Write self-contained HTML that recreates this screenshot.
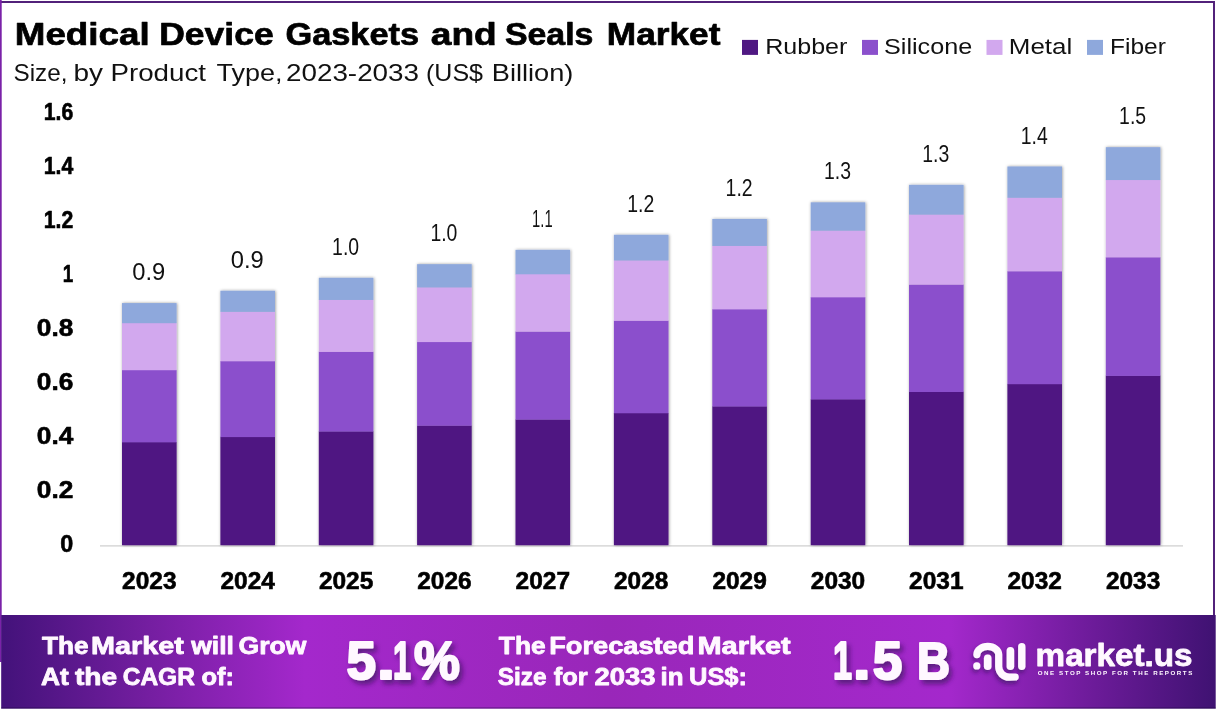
<!DOCTYPE html>
<html lang="en"><head><meta charset="utf-8"><title>Medical Device Gaskets and Seals Market</title>
<style>
html,body{margin:0;padding:0;background:#fff;}
body{width:1217px;height:712px;overflow:hidden;font-family:"Liberation Sans",Arial,sans-serif;}
svg{display:block;}
text{font-family:"Liberation Sans",Arial,sans-serif;}
</style></head><body>
<svg width="1217" height="712" viewBox="0 0 1217 712">
<defs>
<linearGradient id="bg" x1="0" y1="0" x2="1" y2="0">
<stop offset="0" stop-color="#43127a"/>
<stop offset="0.12" stop-color="#741ea0"/>
<stop offset="0.25" stop-color="#a428cc"/>
<stop offset="0.5" stop-color="#9927b9"/>
<stop offset="0.78" stop-color="#a428cc"/>
<stop offset="0.9" stop-color="#6c1b99"/>
<stop offset="1" stop-color="#3f1272"/>
</linearGradient>
<filter id="bsh" x="-20%" y="-10%" width="140%" height="120%"><feDropShadow dx="0.6" dy="0" stdDeviation="1.7" flood-color="#000" flood-opacity="0.4"/></filter>
<filter id="tsh" x="-20%" y="-20%" width="140%" height="160%"><feDropShadow dx="3" dy="4" stdDeviation="2.5" flood-color="#2a0850" flood-opacity="0.6"/></filter>
<filter id="lsh" x="-20%" y="-20%" width="140%" height="150%"><feDropShadow dx="-1" dy="3" stdDeviation="2" flood-color="#2a0850" flood-opacity="0.55"/></filter>
</defs>
<rect x="0" y="0" width="1217" height="712" fill="#ffffff"/>
<!-- frame -->
<rect x="0" y="1" width="1215" height="2" fill="#52217a"/>
<rect x="1213" y="1" width="2" height="616" fill="#52217a"/>
<rect x="0" y="0" width="1.7" height="662" fill="#7a22a8"/>

<g fill="#000" stroke="#000" stroke-width="0" stroke-linejoin="round">
<text y="44.5" font-size="31.5" font-weight="700" stroke-width="0.7"><tspan x="14.8" textLength="134.8" lengthAdjust="spacingAndGlyphs">Medical</tspan> <tspan x="159.2" textLength="114.5" lengthAdjust="spacingAndGlyphs">Device</tspan> <tspan x="285.4" textLength="133.8" lengthAdjust="spacingAndGlyphs">Gaskets</tspan> <tspan x="430.8" textLength="65.9" lengthAdjust="spacingAndGlyphs">and</tspan> <tspan x="504.9" textLength="88.5" lengthAdjust="spacingAndGlyphs">Seals</tspan> <tspan x="606.8" textLength="113.6" lengthAdjust="spacingAndGlyphs">Market</tspan></text>
</g><g fill="#111">
<text y="80.5" font-size="24"><tspan x="13.5" textLength="54.0" lengthAdjust="spacingAndGlyphs">Size,</tspan> <tspan x="73.5" textLength="29.5" lengthAdjust="spacingAndGlyphs">by</tspan> <tspan x="110.5" textLength="95.5" lengthAdjust="spacingAndGlyphs">Product</tspan> <tspan x="216.5" textLength="66.0" lengthAdjust="spacingAndGlyphs">Type,</tspan> <tspan x="286.0" textLength="133.0" lengthAdjust="spacingAndGlyphs">2023-2033</tspan> <tspan x="426.0" textLength="57.0" lengthAdjust="spacingAndGlyphs">(US$</tspan> <tspan x="491.8" textLength="81.5" lengthAdjust="spacingAndGlyphs">Billion)</tspan></text>
<rect x="742" y="39.9" width="16" height="15" fill="#4f1882"/>
<text id="t1" x="765.2" y="53.7" font-size="22" textLength="82.2" lengthAdjust="spacingAndGlyphs">Rubber</text>
<rect x="862" y="39.9" width="16" height="15" fill="#8b50cc"/>
<text id="t2" x="884.0" y="53.7" font-size="22" textLength="88.2" lengthAdjust="spacingAndGlyphs">Silicone</text>
<rect x="986.5" y="39.9" width="16" height="15" fill="#d2a8ee"/>
<text id="t3" x="1008.8" y="53.7" font-size="22" textLength="63.4" lengthAdjust="spacingAndGlyphs">Metal</text>
<rect x="1087" y="39.9" width="16" height="15" fill="#8ea8dc"/>
<text id="t4" x="1110.0" y="53.7" font-size="22" textLength="55.8" lengthAdjust="spacingAndGlyphs">Fiber</text>
</g><g fill="#000" stroke="#000" stroke-width="0" stroke-linejoin="round">
<text id="t5" x="60.3" y="552.2" font-size="24" font-weight="700" textLength="13.0" lengthAdjust="spacingAndGlyphs" stroke-width="0.6">0</text>
<text id="t6" x="36.8" y="498.2" font-size="24" font-weight="700" textLength="36.5" lengthAdjust="spacingAndGlyphs" stroke-width="0.6">0.2</text>
<text id="t7" x="36.8" y="444.2" font-size="24" font-weight="700" textLength="36.5" lengthAdjust="spacingAndGlyphs" stroke-width="0.6">0.4</text>
<text id="t8" x="36.8" y="390.2" font-size="24" font-weight="700" textLength="36.5" lengthAdjust="spacingAndGlyphs" stroke-width="0.6">0.6</text>
<text id="t9" x="36.8" y="336.2" font-size="24" font-weight="700" textLength="36.5" lengthAdjust="spacingAndGlyphs" stroke-width="0.6">0.8</text>
<text id="t10" x="62.8" y="282.2" font-size="24" font-weight="700" textLength="10.5" lengthAdjust="spacingAndGlyphs" stroke-width="0.6">1</text>
<text id="t11" x="43.8" y="228.2" font-size="24" font-weight="700" textLength="29.5" lengthAdjust="spacingAndGlyphs" stroke-width="0.6">1.2</text>
<text id="t12" x="43.8" y="174.2" font-size="24" font-weight="700" textLength="29.5" lengthAdjust="spacingAndGlyphs" stroke-width="0.6">1.4</text>
<text id="t13" x="43.8" y="120.2" font-size="24" font-weight="700" textLength="29.5" lengthAdjust="spacingAndGlyphs" stroke-width="0.6">1.6</text>
</g>
<rect x="100" y="545.3" width="1083" height="1.2" fill="#cdcdcd"/>
<g filter="url(#bsh)">
<rect x="122.0" y="442.04" width="54.6" height="103.16" fill="#4f1882"/>
<rect x="122.0" y="369.95" width="54.6" height="72.39" fill="#8b50cc"/>
<rect x="122.0" y="322.89" width="54.6" height="47.35" fill="#d2a8ee"/>
<rect x="122.0" y="303.08" width="54.6" height="20.11" fill="#8ea8dc"/>
<rect x="220.4" y="436.79" width="54.6" height="108.41" fill="#4f1882"/>
<rect x="220.4" y="361.02" width="54.6" height="76.07" fill="#8b50cc"/>
<rect x="220.4" y="311.57" width="54.6" height="49.75" fill="#d2a8ee"/>
<rect x="220.4" y="290.74" width="54.6" height="21.12" fill="#8ea8dc"/>
<rect x="318.8" y="431.27" width="54.6" height="113.93" fill="#4f1882"/>
<rect x="318.8" y="351.64" width="54.6" height="79.93" fill="#8b50cc"/>
<rect x="318.8" y="299.66" width="54.6" height="52.28" fill="#d2a8ee"/>
<rect x="318.8" y="277.77" width="54.6" height="22.19" fill="#8ea8dc"/>
<rect x="417.1" y="425.47" width="54.6" height="119.73" fill="#4f1882"/>
<rect x="417.1" y="341.77" width="54.6" height="83.99" fill="#8b50cc"/>
<rect x="417.1" y="287.15" width="54.6" height="54.93" fill="#d2a8ee"/>
<rect x="417.1" y="264.15" width="54.6" height="23.30" fill="#8ea8dc"/>
<rect x="515.5" y="419.37" width="54.6" height="125.83" fill="#4f1882"/>
<rect x="515.5" y="331.41" width="54.6" height="88.26" fill="#8b50cc"/>
<rect x="515.5" y="274.00" width="54.6" height="57.71" fill="#d2a8ee"/>
<rect x="515.5" y="249.82" width="54.6" height="24.48" fill="#8ea8dc"/>
<rect x="613.9" y="412.97" width="54.6" height="132.23" fill="#4f1882"/>
<rect x="613.9" y="320.52" width="54.6" height="92.75" fill="#8b50cc"/>
<rect x="613.9" y="260.18" width="54.6" height="60.64" fill="#d2a8ee"/>
<rect x="613.9" y="234.77" width="54.6" height="25.71" fill="#8ea8dc"/>
<rect x="712.3" y="406.23" width="54.6" height="138.97" fill="#4f1882"/>
<rect x="712.3" y="309.07" width="54.6" height="97.46" fill="#8b50cc"/>
<rect x="712.3" y="245.65" width="54.6" height="63.72" fill="#d2a8ee"/>
<rect x="712.3" y="218.95" width="54.6" height="27.00" fill="#8ea8dc"/>
<rect x="810.7" y="399.15" width="54.6" height="146.05" fill="#4f1882"/>
<rect x="810.7" y="297.04" width="54.6" height="102.42" fill="#8b50cc"/>
<rect x="810.7" y="230.38" width="54.6" height="66.95" fill="#d2a8ee"/>
<rect x="810.7" y="202.32" width="54.6" height="28.37" fill="#8ea8dc"/>
<rect x="909.0" y="391.72" width="54.6" height="153.48" fill="#4f1882"/>
<rect x="909.0" y="284.39" width="54.6" height="107.63" fill="#8b50cc"/>
<rect x="909.0" y="214.34" width="54.6" height="70.35" fill="#d2a8ee"/>
<rect x="909.0" y="184.84" width="54.6" height="29.80" fill="#8ea8dc"/>
<rect x="1007.4" y="383.90" width="54.6" height="161.30" fill="#4f1882"/>
<rect x="1007.4" y="271.10" width="54.6" height="113.10" fill="#8b50cc"/>
<rect x="1007.4" y="197.47" width="54.6" height="73.92" fill="#d2a8ee"/>
<rect x="1007.4" y="166.47" width="54.6" height="31.30" fill="#8ea8dc"/>
<rect x="1105.8" y="375.68" width="54.6" height="169.52" fill="#4f1882"/>
<rect x="1105.8" y="257.13" width="54.6" height="118.85" fill="#8b50cc"/>
<rect x="1105.8" y="179.75" width="54.6" height="77.68" fill="#d2a8ee"/>
<rect x="1105.8" y="147.17" width="54.6" height="32.88" fill="#8ea8dc"/>
</g>
<text id="t14" x="132.3" y="280.1" font-size="24" fill="#111" textLength="33.0" lengthAdjust="spacingAndGlyphs">0.9</text>
<text id="t15" x="122.1" y="589.1" font-size="24.5" font-weight="700" fill="#000" textLength="54.4" lengthAdjust="spacingAndGlyphs" stroke="#000" stroke-width="0.6">2023</text>
<text id="t16" x="230.7" y="267.7" font-size="24" fill="#111" textLength="33.0" lengthAdjust="spacingAndGlyphs">0.9</text>
<text id="t17" x="220.5" y="589.1" font-size="24.5" font-weight="700" fill="#000" textLength="54.4" lengthAdjust="spacingAndGlyphs" stroke="#000" stroke-width="0.6">2024</text>
<text id="t18" x="332.1" y="254.8" font-size="24" fill="#111" textLength="27.0" lengthAdjust="spacingAndGlyphs">1.0</text>
<text id="t19" x="318.9" y="589.1" font-size="24.5" font-weight="700" fill="#000" textLength="54.4" lengthAdjust="spacingAndGlyphs" stroke="#000" stroke-width="0.6">2025</text>
<text id="t20" x="430.4" y="241.1" font-size="24" fill="#111" textLength="27.0" lengthAdjust="spacingAndGlyphs">1.0</text>
<text id="t21" x="417.2" y="589.1" font-size="24.5" font-weight="700" fill="#000" textLength="54.4" lengthAdjust="spacingAndGlyphs" stroke="#000" stroke-width="0.6">2026</text>
<text id="t22" x="532.1" y="226.8" font-size="24" fill="#111" textLength="20.5" lengthAdjust="spacingAndGlyphs">1.1</text>
<text id="t23" x="515.6" y="589.1" font-size="24.5" font-weight="700" fill="#000" textLength="54.4" lengthAdjust="spacingAndGlyphs" stroke="#000" stroke-width="0.6">2027</text>
<text id="t24" x="627.2" y="211.8" font-size="24" fill="#111" textLength="27.0" lengthAdjust="spacingAndGlyphs">1.2</text>
<text id="t25" x="614.0" y="589.1" font-size="24.5" font-weight="700" fill="#000" textLength="54.4" lengthAdjust="spacingAndGlyphs" stroke="#000" stroke-width="0.6">2028</text>
<text id="t26" x="725.6" y="195.9" font-size="24" fill="#111" textLength="27.0" lengthAdjust="spacingAndGlyphs">1.2</text>
<text id="t27" x="712.4" y="589.1" font-size="24.5" font-weight="700" fill="#000" textLength="54.4" lengthAdjust="spacingAndGlyphs" stroke="#000" stroke-width="0.6">2029</text>
<text id="t28" x="824.0" y="179.3" font-size="24" fill="#111" textLength="27.0" lengthAdjust="spacingAndGlyphs">1.3</text>
<text id="t29" x="810.8" y="589.1" font-size="24.5" font-weight="700" fill="#000" textLength="54.4" lengthAdjust="spacingAndGlyphs" stroke="#000" stroke-width="0.6">2030</text>
<text id="t30" x="922.3" y="161.8" font-size="24" fill="#111" textLength="27.0" lengthAdjust="spacingAndGlyphs">1.3</text>
<text id="t31" x="909.1" y="589.1" font-size="24.5" font-weight="700" fill="#000" textLength="54.4" lengthAdjust="spacingAndGlyphs" stroke="#000" stroke-width="0.6">2031</text>
<text id="t32" x="1020.7" y="143.5" font-size="24" fill="#111" textLength="27.0" lengthAdjust="spacingAndGlyphs">1.4</text>
<text id="t33" x="1007.5" y="589.1" font-size="24.5" font-weight="700" fill="#000" textLength="54.4" lengthAdjust="spacingAndGlyphs" stroke="#000" stroke-width="0.6">2032</text>
<text id="t34" x="1119.1" y="124.2" font-size="24" fill="#111" textLength="27.0" lengthAdjust="spacingAndGlyphs">1.5</text>
<text id="t35" x="1105.9" y="589.1" font-size="24.5" font-weight="700" fill="#000" textLength="54.4" lengthAdjust="spacingAndGlyphs" stroke="#000" stroke-width="0.6">2033</text>
<rect x="1.2" y="615" width="1214.5" height="93.6" fill="url(#bg)"/>
<rect x="1.2" y="707.4" width="1214.5" height="1.2" fill="#1c0440" fill-opacity="0.45"/>
<g fill="#fff8ff" stroke="#fff8ff" stroke-width="0" stroke-linejoin="round">
<text y="654.0" font-size="23.5" font-weight="700" stroke-width="0.8"><tspan x="42.0" textLength="46.5" lengthAdjust="spacingAndGlyphs">The</tspan> <tspan x="91.0" textLength="92.8" lengthAdjust="spacingAndGlyphs">Market</tspan> <tspan x="191.2" textLength="42.8" lengthAdjust="spacingAndGlyphs">will</tspan> <tspan x="238.5" textLength="67.8" lengthAdjust="spacingAndGlyphs">Grow</tspan></text>
<text y="684.5" font-size="23.5" font-weight="700" stroke-width="0.8"><tspan x="41.0" textLength="27.8" lengthAdjust="spacingAndGlyphs">At</tspan> <tspan x="75.0" textLength="42.2" lengthAdjust="spacingAndGlyphs">the</tspan> <tspan x="122.8" textLength="72.0" lengthAdjust="spacingAndGlyphs">CAGR</tspan> <tspan x="201.5" textLength="32.5" lengthAdjust="spacingAndGlyphs">of:</tspan></text>
<text y="654.0" font-size="23.5" font-weight="700" stroke-width="0.8"><tspan x="498.8" textLength="46.8" lengthAdjust="spacingAndGlyphs">The</tspan> <tspan x="549.2" textLength="145.2" lengthAdjust="spacingAndGlyphs">Forecasted</tspan> <tspan x="697.5" textLength="93.2" lengthAdjust="spacingAndGlyphs">Market</tspan></text>
<text y="684.5" font-size="23.5" font-weight="700" stroke-width="0.8"><tspan x="497.8" textLength="48.8" lengthAdjust="spacingAndGlyphs">Size</tspan> <tspan x="553.8" textLength="33.8" lengthAdjust="spacingAndGlyphs">for</tspan> <tspan x="594.5" textLength="61.0" lengthAdjust="spacingAndGlyphs">2033</tspan> <tspan x="660.5" textLength="23.0" lengthAdjust="spacingAndGlyphs">in</tspan> <tspan x="689.0" textLength="58.0" lengthAdjust="spacingAndGlyphs">US$:</tspan></text>
<g filter="url(#tsh)">
<text y="679.0" font-size="53.5" font-weight="700" stroke-width="2.2"><tspan x="346.5" textLength="29.5" lengthAdjust="spacingAndGlyphs">5</tspan><tspan x="377.0" textLength="18.0" lengthAdjust="spacingAndGlyphs">.</tspan><tspan x="393.0" textLength="18.0" lengthAdjust="spacingAndGlyphs">1</tspan><tspan x="414.0" textLength="45.8" lengthAdjust="spacingAndGlyphs">%</tspan></text>
<text y="679.0" font-size="53.5" font-weight="700" stroke-width="2.2"><tspan x="833.0" textLength="19.0" lengthAdjust="spacingAndGlyphs">1</tspan><tspan x="853.0" textLength="17.5" lengthAdjust="spacingAndGlyphs">.</tspan><tspan x="872.8" textLength="29.5" lengthAdjust="spacingAndGlyphs">5</tspan></text>
<text id="t36" x="917.0" y="679.0" font-size="52" font-weight="700" textLength="33.0" lengthAdjust="spacingAndGlyphs" stroke-width="2.2">B</text>
</g>
<text id="t37" x="1035.6" y="665.6" font-size="31.5" font-weight="700" textLength="157.0" lengthAdjust="spacingAndGlyphs" stroke-width="0.8">market.us</text>
<text id="t38" x="1037.7" y="674.9" font-size="6.2" font-weight="700" textLength="154.6" lengthAdjust="spacing">ONE STOP SHOP FOR THE REPORTS</text>
</g>
<g filter="url(#lsh)" fill="none" stroke="#fff8ff" stroke-linecap="round" stroke-linejoin="round">
<path d="M976.9 654.6 A10.9 8.2 0 0 1 998.7 654.6 L998.7 666.6 A10.6 10.6 0 0 0 1009.3 677.2 L1015.2 677" stroke-width="7.2"/>
<path d="M987.7 658.4 L987.7 666.2" stroke-width="7.6"/>
<path d="M1010.4 650.8 L1010.4 666.2" stroke-width="7.6"/>
<path d="M1021.8 646.8 L1021.8 666.2" stroke-width="7.4"/>
<circle cx="976.8" cy="665.9" r="3.6" fill="#fff8ff" stroke="none"/>
</g>
</svg></body></html>
